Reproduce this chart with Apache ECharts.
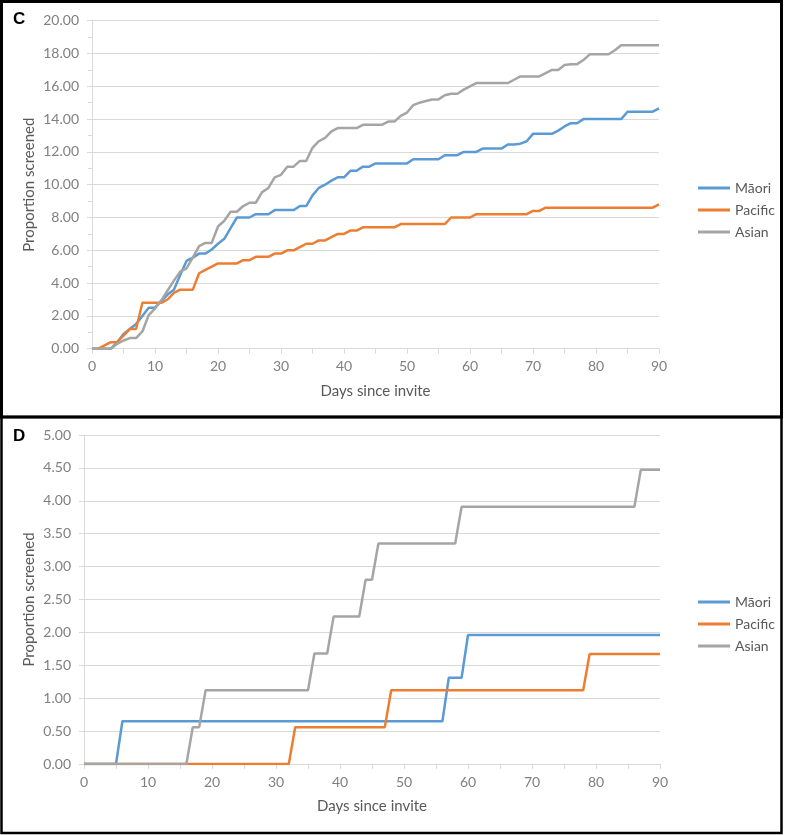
<!DOCTYPE html>
<html>
<head>
<meta charset="utf-8">
<script src="https://cdn.jsdelivr.net/npm/echarts@6/dist/echarts.min.js"></script>
<style>
html,body{margin:0;padding:0;background:#fff;}
#chart{width:785px;height:835px;}
</style>
</head>
<body>
<div id="chart"></div>
<script>
// ---------- data ----------
const days = [0,1,2,3,4,5,6,7,8,9,10,11,12,13,14,15,16,17,18,19,20,21,22,23,24,25,26,27,28,29,30,31,32,33,34,35,36,37,38,39,40,41,42,43,44,45,46,47,48,49,50,51,52,53,54,55,56,57,58,59,60,61,62,63,64,65,66,67,68,69,70,71,72,73,74,75,76,77,78,79,80,81,82,83,84,85,86,87,88,89,90];
const seriesNames = ['Māori','Pacific','Asian'];

// Panel C
const maoriC = [0,0,0,0,0.4,0.9,1.2,1.5,2.0,2.5,
  2.5,2.9,3.3,3.6,4.5,5.35,5.55,5.8,5.8,6.05,
  6.4,6.7,7.35,8.0,8.0,8.0,8.2,8.2,8.2,8.45,
  8.45,8.45,8.45,8.7,8.7,9.35,9.8,10.0,10.25,10.45,
  10.45,10.85,10.85,11.1,11.1,11.3,11.3,11.3,11.3,11.3,
  11.3,11.55,11.55,11.55,11.55,11.55,11.8,11.8,11.8,12.0,
  12.0,12.0,12.2,12.2,12.2,12.2,12.45,12.45,12.5,12.65,
  13.1,13.1,13.1,13.1,13.3,13.55,13.75,13.75,14.0,14.0,
  14.0,14.0,14.0,14.0,14.0,14.45,14.45,14.45,14.45,14.45,
  14.65];
const pacificC = [0,0,0.2,0.4,0.4,0.8,1.2,1.2,2.8,2.8,
  2.8,2.8,3.0,3.4,3.6,3.6,3.6,4.6,4.8,5.0,
  5.2,5.2,5.2,5.2,5.4,5.4,5.6,5.6,5.6,5.8,
  5.8,6.0,6.0,6.2,6.4,6.4,6.6,6.6,6.8,7.0,
  7.0,7.2,7.2,7.4,7.4,7.4,7.4,7.4,7.4,7.6,
  7.6,7.6,7.6,7.6,7.6,7.6,7.6,8.0,8.0,8.0,
  8.0,8.2,8.2,8.2,8.2,8.2,8.2,8.2,8.2,8.2,
  8.4,8.4,8.6,8.6,8.6,8.6,8.6,8.6,8.6,8.6,
  8.6,8.6,8.6,8.6,8.6,8.6,8.6,8.6,8.6,8.6,
  8.8];
const asianC = [0,0,0,0,0.3,0.5,0.65,0.65,1.05,2.05,
  2.45,2.95,3.55,4.15,4.7,4.9,5.55,6.25,6.45,6.45,
  7.45,7.8,8.35,8.35,8.7,8.9,8.9,9.55,9.8,10.45,
  10.6,11.1,11.1,11.45,11.45,12.25,12.65,12.85,13.25,13.45,
  13.45,13.45,13.45,13.65,13.65,13.65,13.65,13.85,13.85,14.2,
  14.4,14.85,15.0,15.1,15.2,15.2,15.45,15.55,15.55,15.8,
  16.0,16.2,16.2,16.2,16.2,16.2,16.2,16.4,16.6,16.6,
  16.6,16.6,16.8,17.0,17.0,17.3,17.35,17.35,17.6,17.95,
  17.95,17.95,17.95,18.2,18.5,18.5,18.5,18.5,18.5,18.5,
  18.5];

// Panel D
const maoriD = [0,0,0,0,0,0,0.65,0.65,0.65,0.65,
  0.65,0.65,0.65,0.65,0.65,0.65,0.65,0.65,0.65,0.65,
  0.65,0.65,0.65,0.65,0.65,0.65,0.65,0.65,0.65,0.65,
  0.65,0.65,0.65,0.65,0.65,0.65,0.65,0.65,0.65,0.65,
  0.65,0.65,0.65,0.65,0.65,0.65,0.65,0.65,0.65,0.65,
  0.65,0.65,0.65,0.65,0.65,0.65,0.65,1.31,1.31,1.31,
  1.96,1.96,1.96,1.96,1.96,1.96,1.96,1.96,1.96,1.96,
  1.96,1.96,1.96,1.96,1.96,1.96,1.96,1.96,1.96,1.96,
  1.96,1.96,1.96,1.96,1.96,1.96,1.96,1.96,1.96,1.96,
  1.96];
const pacificD = [0,0,0,0,0,0,0,0,0,0,
  0,0,0,0,0,0,0,0,0,0,
  0,0,0,0,0,0,0,0,0,0,
  0,0,0,0.56,0.56,0.56,0.56,0.56,0.56,0.56,
  0.56,0.56,0.56,0.56,0.56,0.56,0.56,0.56,1.12,1.12,
  1.12,1.12,1.12,1.12,1.12,1.12,1.12,1.12,1.12,1.12,
  1.12,1.12,1.12,1.12,1.12,1.12,1.12,1.12,1.12,1.12,
  1.12,1.12,1.12,1.12,1.12,1.12,1.12,1.12,1.12,1.67,
  1.67,1.67,1.67,1.67,1.67,1.67,1.67,1.67,1.67,1.67,
  1.67];
const asianD = [0,0,0,0,0,0,0,0,0,0,
  0,0,0,0,0,0,0,0.56,0.56,1.12,
  1.12,1.12,1.12,1.12,1.12,1.12,1.12,1.12,1.12,1.12,
  1.12,1.12,1.12,1.12,1.12,1.12,1.68,1.68,1.68,2.24,
  2.24,2.24,2.24,2.24,2.80,2.80,3.35,3.35,3.35,3.35,
  3.35,3.35,3.35,3.35,3.35,3.35,3.35,3.35,3.35,3.91,
  3.91,3.91,3.91,3.91,3.91,3.91,3.91,3.91,3.91,3.91,
  3.91,3.91,3.91,3.91,3.91,3.91,3.91,3.91,3.91,3.91,
  3.91,3.91,3.91,3.91,3.91,3.91,3.91,4.47,4.47,4.47,
  4.47];

// tick labels
const xTicks = ['0','10','20','30','40','50','60','70','80','90'];
const yTicksC = ['0.00','2.00','4.00','6.00','8.00','10.00','12.00','14.00','16.00','18.00','20.00'];
const yTicksD = ['0.00','0.50','1.00','1.50','2.00','2.50','3.00','3.50','4.00','4.50','5.00'];
const xTitle = 'Days since invite';
const yTitle = 'Proportion screened';
const panelLabels = ['C','D'];

// ---------- chart ----------
const FONT = 'Lato, "Open Sans", "Liberation Sans", sans-serif';
const GRID_COL = '#D9D9D9';
const LABEL_COL = '#808080';
const TITLE_COL = '#595959';
const colors = {'Māori':'#5B9BD5','Pacific':'#ED7D31','Asian':'#A5A5A5'};

function pairs(vals){ return days.map((d,i)=>[d, vals[i]]); }

function xAxisCfg(gi){
  return {
    type:'value', gridIndex:gi, min:0, max:90, interval:10,
    axisLine:{show:true, lineStyle:{color:GRID_COL, width:1}},
    axisTick:{show:true, length:5, lineStyle:{color:GRID_COL}},
    minorTick:{show:true, splitNumber:2, length:5, lineStyle:{color:GRID_COL}},
    splitLine:{show:false},
    axisLabel:{color:LABEL_COL, fontSize:14, fontFamily:FONT, margin:11,
      formatter:v=>xTicks[Math.round(v/10)]},
    name:xTitle, nameLocation:'middle', nameGap:35,
    nameTextStyle:{color:TITLE_COL, fontSize:15, fontFamily:FONT}
  };
}
function yAxisCfg(gi, max, interval, ticks, gap, minor){
  return {
    type:'value', gridIndex:gi, min:0, max:max, interval:interval,
    axisLine:{show:true, lineStyle:{color:GRID_COL, width:1}},
    axisTick:{show:true, length:5, lineStyle:{color:GRID_COL}},
    minorTick:{show:minor, splitNumber:2, length:4, lineStyle:{color:GRID_COL}},
    splitLine:{show:true, lineStyle:{color:GRID_COL, width:1}},
    axisLabel:{color:LABEL_COL, fontSize:14, fontFamily:FONT, margin:13,
      formatter:v=>ticks[Math.round(v/interval)]},
    name:yTitle, nameLocation:'middle', nameGap:gap, nameMoveOverlap:false,
    nameTextStyle:{color:TITLE_COL, fontSize:15, fontFamily:FONT}
  };
}
function lineSeries(name, vals, gi){
  return {
    name:name, type:'line', xAxisIndex:gi, yAxisIndex:gi,
    data:pairs(vals), showSymbol:false, symbol:'none',
    lineStyle:{color:colors[name], width:2.5}, itemStyle:{color:colors[name]},
    animation:false
  };
}
function legendCfg(top){
  return {
    orient:'vertical', left:693, top:top, icon:'rect', itemWidth:32, itemHeight:3,
    itemGap:8, data:seriesNames, selectedMode:false,
    textStyle:{color:TITLE_COL, fontSize:14, fontFamily:FONT}
  };
}

const chart = echarts.init(document.getElementById('chart'), null, {renderer:'canvas'});
chart.setOption({
  backgroundColor:'#ffffff',
  animation:false,
  grid:[
    {left:92, right:126, top:20.7, bottom:486.3},
    {left:84, right:125, top:435, bottom:71}
  ],
  xAxis:[xAxisCfg(0), xAxisCfg(1)],
  yAxis:[yAxisCfg(0,20,2,yTicksC,55,true), yAxisCfg(1,5,0.5,yTicksD,47,false)],
  legend:[legendCfg(176), legendCfg(590)],
  series:[
    lineSeries('Māori', maoriC, 0), lineSeries('Pacific', pacificC, 0), lineSeries('Asian', asianC, 0),
    lineSeries('Māori', maoriD, 1), lineSeries('Pacific', pacificD, 1), lineSeries('Asian', asianD, 1)
  ],
  graphic:[
    {type:'rect', shape:{x:1.5, y:1.5, width:780, height:415.5}, style:{fill:'none', stroke:'#000', lineWidth:3}, silent:true},
    {type:'rect', shape:{x:1.5, y:417, width:780, height:416}, style:{fill:'none', stroke:'#000', lineWidth:2.5}, silent:true},
    {type:'text', left:13, top:11, style:{text:panelLabels[0], fontSize:17, fontWeight:'bold', fill:'#000', fontFamily:'"Liberation Sans", Arial, sans-serif'}},
    {type:'text', left:13, top:428, style:{text:panelLabels[1], fontSize:17, fontWeight:'bold', fill:'#000', fontFamily:'"Liberation Sans", Arial, sans-serif'}}
  ]
});
</script>
</body>
</html>
